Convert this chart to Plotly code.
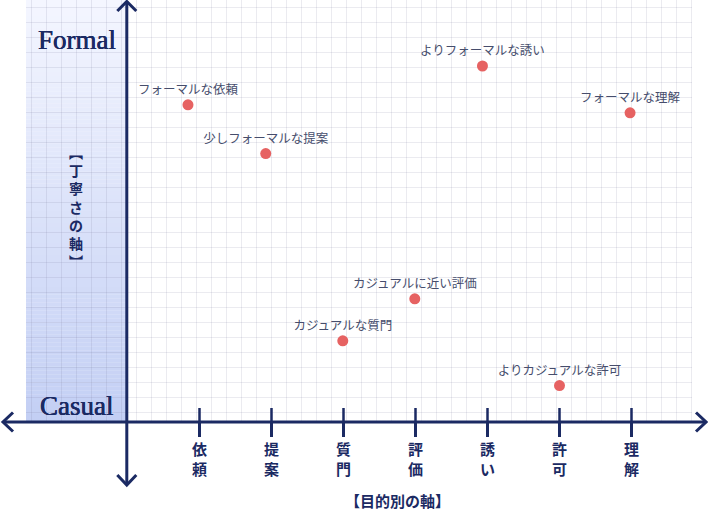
import plotly.graph_objects as go

# ---------------- data ----------------
categories = ["依頼", "提案", "質門", "評価", "誘い", "許可", "理解"]
cat_pos = [1, 2, 3, 4, 5, 6, 7]
point_labels = ["フォーマルな依頼", "少しフォーマルな提案", "よりフォーマルな誘い", "フォーマルな理解",
                "カジュアルに近い評価", "カジュアルな質門", "よりカジュアルな許可"]
point_x = [0.84, 1.92, 4.93, 6.98, 3.99, 2.99, 6.00]
point_y = [7.93, 6.71, 8.90, 7.73, 3.08, 2.03, 0.91]
x_axis_title = "【目的別の軸】"
y_axis_title = "【丁寧さの軸】"
y_top_label = "Formal"
y_bottom_label = "Casual"

# ---------------- layout constants ----------------
W, H = 708, 516
X0_PX, X_UNIT = 127.5, 72.0      # pixel of x=0 and pixels per x unit
Y0_PX, Y_UNIT = 422.0, 40.0      # pixel of y=0 and pixels per y unit
xr = [(0 - X0_PX) / X_UNIT, (W - X0_PX) / X_UNIT]
yr = [(Y0_PX - H) / Y_UNIT, Y0_PX / Y_UNIT]

NAVY = "#1b2a63"
POINT = "#e66262"
LABEL = "#464d6c"


def dx(px):
    return px / X_UNIT


def dy(px):
    return px / Y_UNIT


def px_x(px):
    return (px - X0_PX) / X_UNIT


def px_y(py):
    return (Y0_PX - py) / Y_UNIT


shapes = []

# gradient shading band (left of vertical axis)
top_c = (244, 246, 255)
bot_c = (195, 207, 244)
n = 106
band_top, band_bot = 0, 422
for i in range(n):
    t = i / (n - 1)
    c = tuple(round(top_c[k] + (bot_c[k] - top_c[k]) * t) for k in range(3))
    y1 = band_top + (band_bot - band_top) * i / n
    y2 = band_top + (band_bot - band_top) * (i + 1) / n
    shapes.append(dict(type="rect", xref="paper", yref="paper", layer="below",
                       x0=26 / W, x1=127 / W, y0=1 - y2 / H - 0.0005, y1=1 - y1 / H,
                       line=dict(width=0), fillcolor="rgb(%d,%d,%d)" % c))

# grid
GRID = "rgba(110,110,150,0.14)"
gx = 31.5
while gx <= 692:
    shapes.append(dict(type="line", xref="paper", yref="paper", layer="below",
                       x0=gx / W, x1=gx / W, y0=1 - 422 / H, y1=1,
                       line=dict(color=GRID, width=1)))
    gx += 15
gy = 7.5
while gy <= 420:
    shapes.append(dict(type="line", xref="paper", yref="paper", layer="below",
                       x0=26 / W, x1=692 / W, y0=1 - gy / H, y1=1 - gy / H,
                       line=dict(color=GRID, width=1)))
    gy += 15

AX = dict(color=NAVY, width=3)
ax_x = px_x(126.8)
# vertical axis + arrows
shapes.append(dict(type="line", xref="x", yref="y", layer="above",
                   x0=ax_x, x1=ax_x, y0=px_y(485), y1=px_y(1.5), line=AX))
shapes.append(dict(type="path", xref="x", yref="y", layer="above",
                   path="M %f %f L %f %f L %f %f" % (ax_x - dx(9.5), px_y(11), ax_x, px_y(1.5), ax_x + dx(9.5), px_y(11)),
                   line=AX))
shapes.append(dict(type="path", xref="x", yref="y", layer="above",
                   path="M %f %f L %f %f L %f %f" % (ax_x - dx(9.5), px_y(475), ax_x, px_y(485), ax_x + dx(9.5), px_y(475)),
                   line=AX))
# horizontal axis + arrows
shapes.append(dict(type="line", xref="x", yref="y", layer="above",
                   x0=px_x(3), x1=px_x(706), y0=0, y1=0, line=AX))
shapes.append(dict(type="path", xref="x", yref="y", layer="above",
                   path="M %f %f L %f %f L %f %f" % (px_x(13), dy(9.5), px_x(3), 0, px_x(13), -dy(9.5)),
                   line=AX))
shapes.append(dict(type="path", xref="x", yref="y", layer="above",
                   path="M %f %f L %f %f L %f %f" % (px_x(696), dy(9.5), px_x(706), 0, px_x(696), -dy(9.5)),
                   line=AX))
# upper half of category tick marks
for p in cat_pos:
    shapes.append(dict(type="line", xref="x", yref="y", layer="above",
                       x0=p, x1=p, y0=0, y1=dy(14), line=dict(color=NAVY, width=2.5)))

fig = go.Figure()
fig.add_trace(go.Scatter(
    x=point_x, y=point_y, mode="markers+text", text=point_labels,
    textposition="top center",
    textfont=dict(family="Noto Sans CJK JP", size=12.5, color=LABEL),
    marker=dict(size=11, color=POINT), hoverinfo="skip", cliponaxis=False))

SERIF = dict(family="Liberation Serif", size=27, color=NAVY,
             shadow="0.35px 0 0 %s, -0.35px 0 0 %s" % (NAVY, NAVY))
annotations = []
annotations.append(dict(xref="paper", yref="paper", x=77 / W, y=1 - 40 / H, text=y_top_label,
                        showarrow=False, xanchor="center", yanchor="middle", font=SERIF))
annotations.append(dict(xref="paper", yref="paper", x=77 / W, y=1 - 406 / H, text=y_bottom_label,
                        showarrow=False, xanchor="center", yanchor="middle", font=SERIF))
# vertical y-axis title, upright characters stacked in one text
vert = y_axis_title.replace("【", "\ufe3b").replace("】", "\ufe3c")
annotations.append(dict(xref="paper", yref="paper", x=76 / W, y=1 - 206 / H, text="<br>".join(vert),
                        showarrow=False, xanchor="center", yanchor="middle",
                        font=dict(family="Noto Sans CJK JP", size=14, color=NAVY, weight="bold")))
annotations.append(dict(xref="paper", yref="paper", x=397 / W, y=1 - 500 / H, text=x_axis_title,
                        showarrow=False, xanchor="center", yanchor="middle",
                        font=dict(family="Noto Sans CJK JP", size=15, color=NAVY, weight="bold")))

fig.update_layout(
    width=W, height=H, margin=dict(l=0, r=0, t=0, b=0),
    paper_bgcolor="white", plot_bgcolor="white", showlegend=False,
    shapes=shapes, annotations=annotations,
    xaxis=dict(range=xr, showgrid=False, zeroline=False, showline=False,
               anchor="free", position=(H - Y0_PX) / H,
               tickvals=cat_pos, ticktext=["<br>".join(c) for c in categories],
               ticks="outside", ticklen=14, tickwidth=2.5, tickcolor=NAVY,
               tickfont=dict(family="Noto Sans CJK JP", size=15, color=NAVY, weight="bold"),
               fixedrange=True),
    yaxis=dict(range=yr, showgrid=False, zeroline=False, showline=False,
               showticklabels=False, fixedrange=True),
)
fig.write_html("out.html")
